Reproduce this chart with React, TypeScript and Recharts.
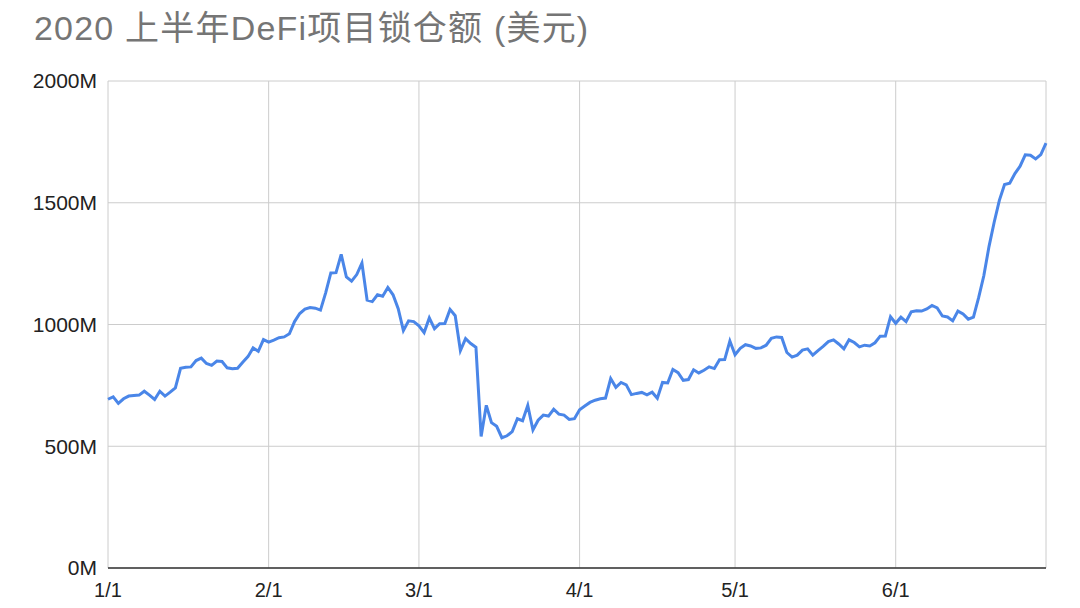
import React from "react";
import {
  LineChart,
  Line,
  XAxis,
  YAxis,
  CartesianGrid,
} from "recharts";

// locked value per day, in millions of USD
const janValues = [
  693, 703, 676, 695, 706, 708, 710, 726, 710, 692, 726, 706, 722, 740, 820, 824,
  826, 852, 862, 840, 832, 850, 848, 822, 818, 820, 845, 868, 904, 890, 938,
];
const febValues = [
  928, 936, 946, 949, 962, 1012, 1045, 1063, 1070, 1067, 1059, 1130, 1212, 1213,
  1288, 1195, 1178, 1205, 1252, 1100, 1094, 1122, 1116, 1152, 1122, 1065, 975,
  1015, 1012,
];
const marValues = [
  995, 967, 1027, 983, 1003, 1004, 1062, 1036, 893, 942, 922, 906, 540, 668, 597,
  582, 535, 543, 560, 613, 605, 668, 567, 607, 628, 624, 652, 632, 628, 610, 613,
];
const aprValues = [
  650, 665, 680, 689, 695, 698, 778, 742, 762, 752, 712, 717, 721, 711, 722, 697,
  762, 760, 815, 802, 771, 774, 814, 801, 812, 826, 819, 855, 856, 932,
];
const mayValues = [
  876, 902, 917, 912, 902, 904, 915, 943, 949, 947, 885, 866, 874, 895, 900, 874,
  893, 910, 930, 937, 920, 900, 937, 926, 908, 915, 912, 925, 952, 953, 1032,
];
const junValues = [
  1005, 1030, 1012, 1052, 1056, 1055, 1064, 1078, 1068, 1035, 1031, 1015, 1055,
  1043, 1022, 1030, 1110, 1200, 1320, 1420, 1510, 1575, 1580, 1620, 1650, 1697,
  1695, 1680, 1698, 1745,
];

const months = [janValues, febValues, marValues, aprValues, mayValues, junValues];
const xTickLabels = ["1/1", "2/1", "3/1", "4/1", "5/1", "6/1"];
const yTicks = [0, 500, 1000, 1500, 2000];

const data: { day: number; date: string; tvl: number }[] = [];
months.forEach((vals, m) => {
  vals.forEach((v, d) => {
    data.push({ day: data.length, date: `${m + 1}/${d + 1}`, tvl: v });
  });
});
const xTicks = xTickLabels.map((l) => data.findIndex((p) => p.date === l));

const font = '"Liberation Sans", Arial, "Noto Sans CJK SC", sans-serif';

export default function App() {
  return (
    <div style={{ position: "absolute", left: 0, top: 0, width: 1080, height: 608, background: "#fff" }}>
      <div
        style={{
          position: "absolute",
          left: 34,
          top: 6,
          width: 700,
          height: 44,
          lineHeight: "44px",
          fontSize: 34,
          color: "#757575",
          fontFamily: font,
          whiteSpace: "nowrap",
          letterSpacing: 1.2,
        }}
      >
        2020 上半年DeFi项目锁仓额 (美元)
      </div>
      <LineChart
        width={1080}
        height={608}
        data={data}
        margin={{ top: 81, right: 34, left: 8, bottom: 0 }}
      >
        <CartesianGrid stroke="#cccccc" strokeWidth={1} />
        <XAxis
          dataKey="day"
          type="number"
          domain={[0, data.length - 1]}
          ticks={xTicks}
          tickFormatter={(v: number) => data[v]?.date ?? ""}
          height={40}
          axisLine={{ stroke: "#333333", strokeWidth: 1.5 }}
          tickLine={false}
          tickMargin={9}
          tick={{ fill: "#222222", fontSize: 20, fontFamily: font }}
        />
        <YAxis
          width={100}
          domain={[0, 2000]}
          ticks={yTicks}
          tickFormatter={(v: number) => `${v}M`}
          axisLine={false}
          tickLine={false}
          tickMargin={5}
          tick={{ fill: "#222222", fontSize: 21, fontFamily: font }}
        />
        <Line
          type="linear"
          dataKey="tvl"
          stroke="#4a86e8"
          strokeWidth={3}
          dot={false}
          isAnimationActive={false}
        />
      </LineChart>
    </div>
  );
}
